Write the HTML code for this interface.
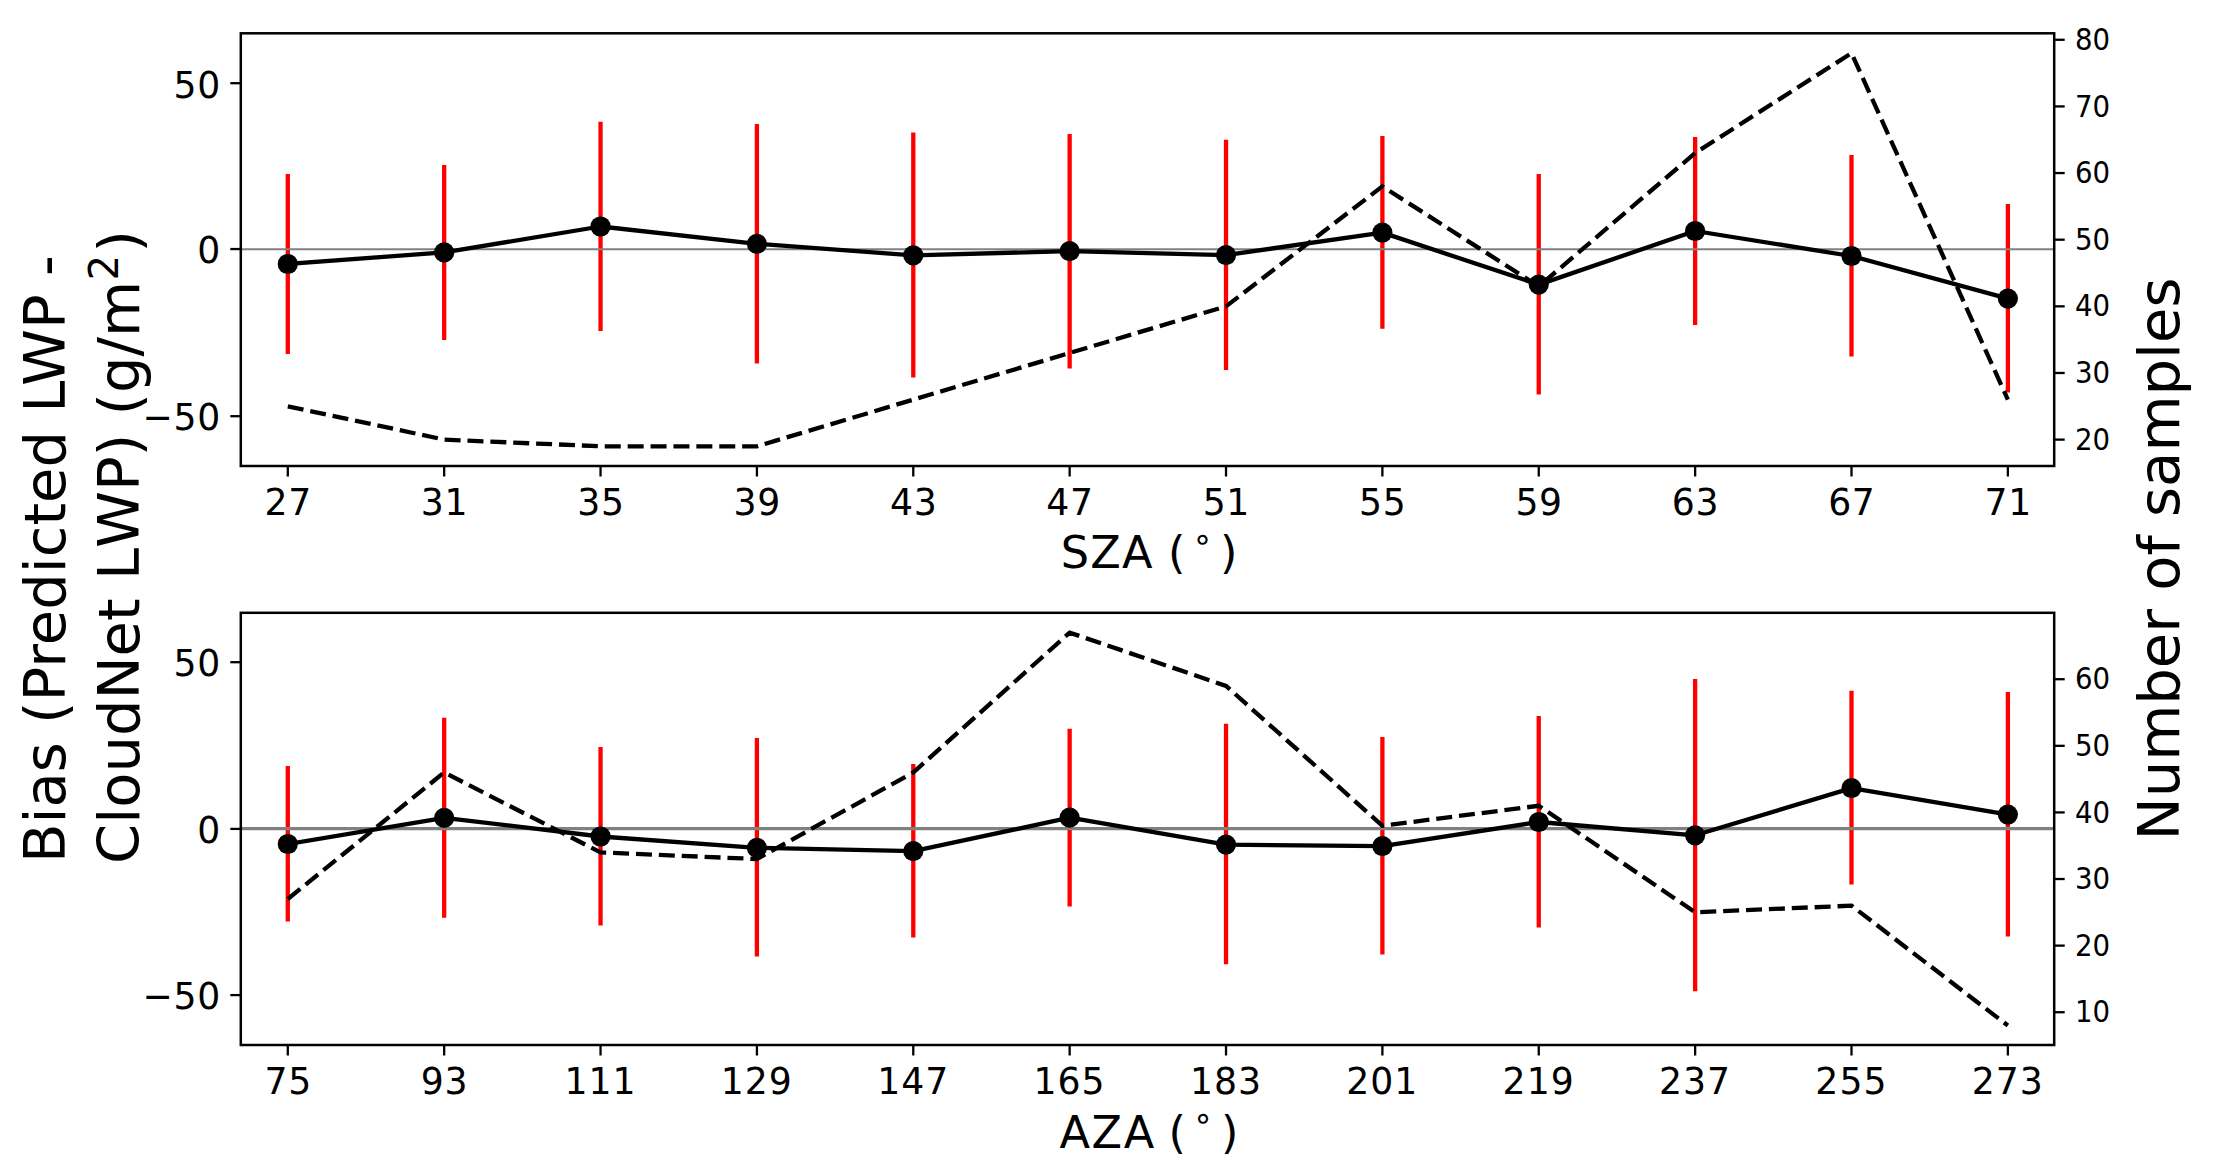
<!DOCTYPE html>
<html><head><meta charset="utf-8"><title>Bias vs SZA / AZA</title>
<style>html,body{margin:0;padding:0;background:#fff;overflow:hidden;width:2219px;height:1171px}svg{display:block}</style></head>
<body>
<svg width="2219" height="1171" viewBox="0 0 2219 1171" font-family="'DejaVu Sans', 'Liberation Sans', sans-serif" fill="#000">
<rect width="2219" height="1171" fill="#fff"/>
<line x1="287.80" y1="173.90" x2="287.80" y2="353.90" stroke="#f00" stroke-width="4.3"/>
<line x1="444.17" y1="164.90" x2="444.17" y2="340.00" stroke="#f00" stroke-width="4.3"/>
<line x1="600.54" y1="121.70" x2="600.54" y2="330.90" stroke="#f00" stroke-width="4.3"/>
<line x1="756.91" y1="123.90" x2="756.91" y2="363.60" stroke="#f00" stroke-width="4.3"/>
<line x1="913.28" y1="132.60" x2="913.28" y2="377.50" stroke="#f00" stroke-width="4.3"/>
<line x1="1069.65" y1="134.10" x2="1069.65" y2="368.50" stroke="#f00" stroke-width="4.3"/>
<line x1="1226.02" y1="139.70" x2="1226.02" y2="370.00" stroke="#f00" stroke-width="4.3"/>
<line x1="1382.39" y1="135.90" x2="1382.39" y2="328.70" stroke="#f00" stroke-width="4.3"/>
<line x1="1538.76" y1="173.90" x2="1538.76" y2="394.40" stroke="#f00" stroke-width="4.3"/>
<line x1="1695.13" y1="137.10" x2="1695.13" y2="324.90" stroke="#f00" stroke-width="4.3"/>
<line x1="1851.50" y1="155.10" x2="1851.50" y2="356.50" stroke="#f00" stroke-width="4.3"/>
<line x1="2007.87" y1="203.90" x2="2007.87" y2="392.60" stroke="#f00" stroke-width="4.3"/>
<line x1="240.8" y1="249.3" x2="2054.2" y2="249.3" stroke="#808080" stroke-width="2.1"/>
<polyline points="287.80,264.00 444.17,252.40 600.54,226.50 756.91,243.80 913.28,255.30 1069.65,251.10 1226.02,255.10 1382.39,232.60 1538.76,284.60 1695.13,231.00 1851.50,256.00 2007.87,298.60" fill="none" stroke="#000" stroke-width="4.3" stroke-linejoin="round" stroke-linecap="square"/>
<circle cx="287.80" cy="264.00" r="10.1"/>
<circle cx="444.17" cy="252.40" r="10.1"/>
<circle cx="600.54" cy="226.50" r="10.1"/>
<circle cx="756.91" cy="243.80" r="10.1"/>
<circle cx="913.28" cy="255.30" r="10.1"/>
<circle cx="1069.65" cy="251.10" r="10.1"/>
<circle cx="1226.02" cy="255.10" r="10.1"/>
<circle cx="1382.39" cy="232.60" r="10.1"/>
<circle cx="1538.76" cy="284.60" r="10.1"/>
<circle cx="1695.13" cy="231.00" r="10.1"/>
<circle cx="1851.50" cy="256.00" r="10.1"/>
<circle cx="2007.87" cy="298.60" r="10.1"/>
<polyline points="287.80,406.30 444.17,439.62 600.54,446.28 756.91,446.28 913.28,399.64 1069.65,352.99 1226.02,306.34 1382.39,186.39 1538.76,286.35 1695.13,153.07 1851.50,53.11 2007.87,399.64" fill="none" stroke="#000" stroke-width="4.3" stroke-dasharray="16.0 6.9" stroke-linejoin="miter"/>
<rect x="240.8" y="33.3" width="1813.3999999999999" height="432.7" fill="none" stroke="#000" stroke-width="2.5" stroke-linejoin="miter"/>
<line x1="287.80" y1="466.0" x2="287.80" y2="476.5" stroke="#000" stroke-width="2.3"/>
<text transform="translate(288.15,514.9) scale(1,1.04)" font-size="36.2" letter-spacing="0.7" text-anchor="middle">27</text>
<line x1="444.17" y1="466.0" x2="444.17" y2="476.5" stroke="#000" stroke-width="2.3"/>
<text transform="translate(444.52,514.9) scale(1,1.04)" font-size="36.2" letter-spacing="0.7" text-anchor="middle">31</text>
<line x1="600.54" y1="466.0" x2="600.54" y2="476.5" stroke="#000" stroke-width="2.3"/>
<text transform="translate(600.89,514.9) scale(1,1.04)" font-size="36.2" letter-spacing="0.7" text-anchor="middle">35</text>
<line x1="756.91" y1="466.0" x2="756.91" y2="476.5" stroke="#000" stroke-width="2.3"/>
<text transform="translate(757.26,514.9) scale(1,1.04)" font-size="36.2" letter-spacing="0.7" text-anchor="middle">39</text>
<line x1="913.28" y1="466.0" x2="913.28" y2="476.5" stroke="#000" stroke-width="2.3"/>
<text transform="translate(913.63,514.9) scale(1,1.04)" font-size="36.2" letter-spacing="0.7" text-anchor="middle">43</text>
<line x1="1069.65" y1="466.0" x2="1069.65" y2="476.5" stroke="#000" stroke-width="2.3"/>
<text transform="translate(1070.00,514.9) scale(1,1.04)" font-size="36.2" letter-spacing="0.7" text-anchor="middle">47</text>
<line x1="1226.02" y1="466.0" x2="1226.02" y2="476.5" stroke="#000" stroke-width="2.3"/>
<text transform="translate(1226.37,514.9) scale(1,1.04)" font-size="36.2" letter-spacing="0.7" text-anchor="middle">51</text>
<line x1="1382.39" y1="466.0" x2="1382.39" y2="476.5" stroke="#000" stroke-width="2.3"/>
<text transform="translate(1382.74,514.9) scale(1,1.04)" font-size="36.2" letter-spacing="0.7" text-anchor="middle">55</text>
<line x1="1538.76" y1="466.0" x2="1538.76" y2="476.5" stroke="#000" stroke-width="2.3"/>
<text transform="translate(1539.11,514.9) scale(1,1.04)" font-size="36.2" letter-spacing="0.7" text-anchor="middle">59</text>
<line x1="1695.13" y1="466.0" x2="1695.13" y2="476.5" stroke="#000" stroke-width="2.3"/>
<text transform="translate(1695.48,514.9) scale(1,1.04)" font-size="36.2" letter-spacing="0.7" text-anchor="middle">63</text>
<line x1="1851.50" y1="466.0" x2="1851.50" y2="476.5" stroke="#000" stroke-width="2.3"/>
<text transform="translate(1851.85,514.9) scale(1,1.04)" font-size="36.2" letter-spacing="0.7" text-anchor="middle">67</text>
<line x1="2007.87" y1="466.0" x2="2007.87" y2="476.5" stroke="#000" stroke-width="2.3"/>
<text transform="translate(2008.22,514.9) scale(1,1.04)" font-size="36.2" letter-spacing="0.7" text-anchor="middle">71</text>
<line x1="240.8" y1="83.20" x2="230.3" y2="83.20" stroke="#000" stroke-width="2.3"/>
<text transform="translate(221.2,97.75) scale(1,1.035)" font-size="36.2" letter-spacing="0.8" text-anchor="end">50</text>
<line x1="240.8" y1="249.05" x2="230.3" y2="249.05" stroke="#000" stroke-width="2.3"/>
<text transform="translate(221.2,263.40) scale(1,1.035)" font-size="36.2" letter-spacing="0.8" text-anchor="end">0</text>
<line x1="240.8" y1="416.20" x2="230.3" y2="416.20" stroke="#000" stroke-width="2.3"/>
<text transform="translate(221.2,430.40) scale(1,1.035)" font-size="36.2" letter-spacing="0.8" text-anchor="end">−50</text>
<line x1="2054.2" y1="39.78" x2="2064.7" y2="39.78" stroke="#000" stroke-width="2.3"/>
<text transform="translate(2075.0,49.93) scale(1,1.06)" font-size="27.6">80</text>
<line x1="2054.2" y1="106.42" x2="2064.7" y2="106.42" stroke="#000" stroke-width="2.3"/>
<text transform="translate(2075.0,116.57) scale(1,1.06)" font-size="27.6">70</text>
<line x1="2054.2" y1="173.06" x2="2064.7" y2="173.06" stroke="#000" stroke-width="2.3"/>
<text transform="translate(2075.0,183.21) scale(1,1.06)" font-size="27.6">60</text>
<line x1="2054.2" y1="239.70" x2="2064.7" y2="239.70" stroke="#000" stroke-width="2.3"/>
<text transform="translate(2075.0,249.85) scale(1,1.06)" font-size="27.6">50</text>
<line x1="2054.2" y1="306.34" x2="2064.7" y2="306.34" stroke="#000" stroke-width="2.3"/>
<text transform="translate(2075.0,316.49) scale(1,1.06)" font-size="27.6">40</text>
<line x1="2054.2" y1="372.98" x2="2064.7" y2="372.98" stroke="#000" stroke-width="2.3"/>
<text transform="translate(2075.0,383.13) scale(1,1.06)" font-size="27.6">30</text>
<line x1="2054.2" y1="439.62" x2="2064.7" y2="439.62" stroke="#000" stroke-width="2.3"/>
<text transform="translate(2075.0,449.77) scale(1,1.06)" font-size="27.6">20</text>
<line x1="287.80" y1="765.90" x2="287.80" y2="921.50" stroke="#f00" stroke-width="4.3"/>
<line x1="444.17" y1="717.80" x2="444.17" y2="917.70" stroke="#f00" stroke-width="4.3"/>
<line x1="600.54" y1="747.10" x2="600.54" y2="925.60" stroke="#f00" stroke-width="4.3"/>
<line x1="756.91" y1="738.10" x2="756.91" y2="956.40" stroke="#f00" stroke-width="4.3"/>
<line x1="913.28" y1="764.00" x2="913.28" y2="937.60" stroke="#f00" stroke-width="4.3"/>
<line x1="1069.65" y1="728.70" x2="1069.65" y2="906.40" stroke="#f00" stroke-width="4.3"/>
<line x1="1226.02" y1="723.80" x2="1226.02" y2="964.30" stroke="#f00" stroke-width="4.3"/>
<line x1="1382.39" y1="737.00" x2="1382.39" y2="954.50" stroke="#f00" stroke-width="4.3"/>
<line x1="1538.76" y1="715.90" x2="1538.76" y2="927.50" stroke="#f00" stroke-width="4.3"/>
<line x1="1695.13" y1="679.10" x2="1695.13" y2="991.30" stroke="#f00" stroke-width="4.3"/>
<line x1="1851.50" y1="690.80" x2="1851.50" y2="884.60" stroke="#f00" stroke-width="4.3"/>
<line x1="2007.87" y1="691.90" x2="2007.87" y2="936.50" stroke="#f00" stroke-width="4.3"/>
<line x1="240.8" y1="828.6" x2="2054.2" y2="828.6" stroke="#808080" stroke-width="3.1"/>
<polyline points="287.80,844.00 444.17,817.80 600.54,836.50 756.91,847.80 913.28,851.20 1069.65,817.70 1226.02,844.60 1382.39,846.20 1538.76,822.00 1695.13,835.30 1851.50,788.10 2007.87,814.60" fill="none" stroke="#000" stroke-width="4.3" stroke-linejoin="round" stroke-linecap="square"/>
<circle cx="287.80" cy="844.00" r="10.1"/>
<circle cx="444.17" cy="817.80" r="10.1"/>
<circle cx="600.54" cy="836.50" r="10.1"/>
<circle cx="756.91" cy="847.80" r="10.1"/>
<circle cx="913.28" cy="851.20" r="10.1"/>
<circle cx="1069.65" cy="817.70" r="10.1"/>
<circle cx="1226.02" cy="844.60" r="10.1"/>
<circle cx="1382.39" cy="846.20" r="10.1"/>
<circle cx="1538.76" cy="822.00" r="10.1"/>
<circle cx="1695.13" cy="835.30" r="10.1"/>
<circle cx="1851.50" cy="788.10" r="10.1"/>
<circle cx="2007.87" cy="814.60" r="10.1"/>
<polyline points="287.80,899.00 444.17,772.46 600.54,852.38 756.91,859.04 913.28,772.46 1069.65,632.60 1226.02,685.88 1382.39,825.74 1538.76,805.76 1695.13,912.32 1851.50,905.66 2007.87,1025.54" fill="none" stroke="#000" stroke-width="4.3" stroke-dasharray="16.0 6.9" stroke-linejoin="miter"/>
<rect x="240.8" y="612.8" width="1813.3999999999999" height="432.20000000000005" fill="none" stroke="#000" stroke-width="2.5" stroke-linejoin="miter"/>
<line x1="287.80" y1="1045.0" x2="287.80" y2="1055.5" stroke="#000" stroke-width="2.3"/>
<text transform="translate(288.15,1093.9) scale(1,1.04)" font-size="36.2" letter-spacing="0.7" text-anchor="middle">75</text>
<line x1="444.17" y1="1045.0" x2="444.17" y2="1055.5" stroke="#000" stroke-width="2.3"/>
<text transform="translate(444.52,1093.9) scale(1,1.04)" font-size="36.2" letter-spacing="0.7" text-anchor="middle">93</text>
<line x1="600.54" y1="1045.0" x2="600.54" y2="1055.5" stroke="#000" stroke-width="2.3"/>
<text transform="translate(600.44,1093.9) scale(1,1.04)" font-size="36.2" letter-spacing="1.0" text-anchor="middle">111</text>
<line x1="756.91" y1="1045.0" x2="756.91" y2="1055.5" stroke="#000" stroke-width="2.3"/>
<text transform="translate(756.81,1093.9) scale(1,1.04)" font-size="36.2" letter-spacing="1.0" text-anchor="middle">129</text>
<line x1="913.28" y1="1045.0" x2="913.28" y2="1055.5" stroke="#000" stroke-width="2.3"/>
<text transform="translate(913.18,1093.9) scale(1,1.04)" font-size="36.2" letter-spacing="1.0" text-anchor="middle">147</text>
<line x1="1069.65" y1="1045.0" x2="1069.65" y2="1055.5" stroke="#000" stroke-width="2.3"/>
<text transform="translate(1069.55,1093.9) scale(1,1.04)" font-size="36.2" letter-spacing="1.0" text-anchor="middle">165</text>
<line x1="1226.02" y1="1045.0" x2="1226.02" y2="1055.5" stroke="#000" stroke-width="2.3"/>
<text transform="translate(1225.92,1093.9) scale(1,1.04)" font-size="36.2" letter-spacing="1.0" text-anchor="middle">183</text>
<line x1="1382.39" y1="1045.0" x2="1382.39" y2="1055.5" stroke="#000" stroke-width="2.3"/>
<text transform="translate(1382.29,1093.9) scale(1,1.04)" font-size="36.2" letter-spacing="1.0" text-anchor="middle">201</text>
<line x1="1538.76" y1="1045.0" x2="1538.76" y2="1055.5" stroke="#000" stroke-width="2.3"/>
<text transform="translate(1538.66,1093.9) scale(1,1.04)" font-size="36.2" letter-spacing="1.0" text-anchor="middle">219</text>
<line x1="1695.13" y1="1045.0" x2="1695.13" y2="1055.5" stroke="#000" stroke-width="2.3"/>
<text transform="translate(1695.03,1093.9) scale(1,1.04)" font-size="36.2" letter-spacing="1.0" text-anchor="middle">237</text>
<line x1="1851.50" y1="1045.0" x2="1851.50" y2="1055.5" stroke="#000" stroke-width="2.3"/>
<text transform="translate(1851.40,1093.9) scale(1,1.04)" font-size="36.2" letter-spacing="1.0" text-anchor="middle">255</text>
<line x1="2007.87" y1="1045.0" x2="2007.87" y2="1055.5" stroke="#000" stroke-width="2.3"/>
<text transform="translate(2007.77,1093.9) scale(1,1.04)" font-size="36.2" letter-spacing="1.0" text-anchor="middle">273</text>
<line x1="240.8" y1="662.20" x2="230.3" y2="662.20" stroke="#000" stroke-width="2.3"/>
<text transform="translate(221.2,676.10) scale(1,1.035)" font-size="36.2" letter-spacing="0.8" text-anchor="end">50</text>
<line x1="240.8" y1="828.90" x2="230.3" y2="828.90" stroke="#000" stroke-width="2.3"/>
<text transform="translate(221.2,842.90) scale(1,1.035)" font-size="36.2" letter-spacing="0.8" text-anchor="end">0</text>
<line x1="240.8" y1="995.10" x2="230.3" y2="995.10" stroke="#000" stroke-width="2.3"/>
<text transform="translate(221.2,1008.60) scale(1,1.035)" font-size="36.2" letter-spacing="0.8" text-anchor="end">−50</text>
<line x1="2054.2" y1="679.22" x2="2064.7" y2="679.22" stroke="#000" stroke-width="2.3"/>
<text transform="translate(2075.0,689.37) scale(1,1.06)" font-size="27.6">60</text>
<line x1="2054.2" y1="745.82" x2="2064.7" y2="745.82" stroke="#000" stroke-width="2.3"/>
<text transform="translate(2075.0,755.97) scale(1,1.06)" font-size="27.6">50</text>
<line x1="2054.2" y1="812.42" x2="2064.7" y2="812.42" stroke="#000" stroke-width="2.3"/>
<text transform="translate(2075.0,822.57) scale(1,1.06)" font-size="27.6">40</text>
<line x1="2054.2" y1="879.02" x2="2064.7" y2="879.02" stroke="#000" stroke-width="2.3"/>
<text transform="translate(2075.0,889.17) scale(1,1.06)" font-size="27.6">30</text>
<line x1="2054.2" y1="945.62" x2="2064.7" y2="945.62" stroke="#000" stroke-width="2.3"/>
<text transform="translate(2075.0,955.77) scale(1,1.06)" font-size="27.6">20</text>
<line x1="2054.2" y1="1012.22" x2="2064.7" y2="1012.22" stroke="#000" stroke-width="2.3"/>
<text transform="translate(2075.0,1022.37) scale(1,1.06)" font-size="27.6">10</text>
<text x="1060.66" y="568.1" font-size="44.6" letter-spacing="1.25">SZA</text>
<text x="1167.90" y="568.1" font-size="44.6">(</text>
<text x="1202.60" y="549.7" font-size="33.1" text-anchor="middle">∘</text>
<text x="1220.12" y="568.1" font-size="44.6">)</text>
<text x="1059.46" y="1147.6" font-size="44.6" letter-spacing="1.65">AZA</text>
<text x="1168.60" y="1147.6" font-size="44.6">(</text>
<text x="1203.20" y="1129.2" font-size="33.1" text-anchor="middle">∘</text>
<text x="1221.02" y="1147.6" font-size="44.6">)</text>
<text transform="translate(64.9,863.0) rotate(-90)" font-size="57.6">Bias (Predicted LWP -</text>
<text transform="translate(139.1,864.0) rotate(-90)" font-size="57.6" style="font-kerning:none" font-kerning="none">CloudNet LWP) (g/m</text>
<text transform="translate(117.9,280.6) rotate(-90)" font-size="40.32">2</text>
<text transform="translate(139.1,252.4) rotate(-90)" font-size="57.6">)</text>
<text transform="translate(2179.05,840.4) rotate(-90)" font-size="57.6">Number of samples</text>
</svg>
</body></html>
